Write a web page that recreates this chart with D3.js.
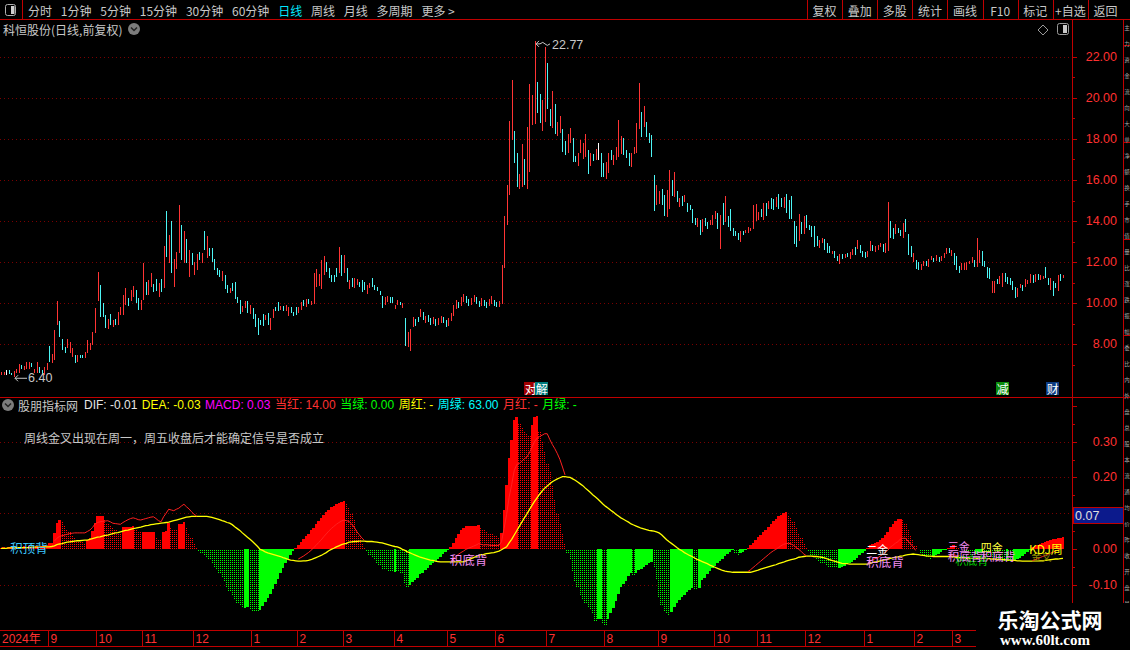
<!DOCTYPE html>
<html><head><meta charset="utf-8">
<script src="https://cdn.jsdelivr.net/npm/d3@7/dist/d3.min.js"></script>
<style>
html,body{margin:0;padding:0;background:#000;overflow:hidden}
svg{display:block}
text{font-family:"Noto Sans CJK SC","Liberation Sans",sans-serif}
.num{font-family:"Liberation Sans","DejaVu Sans",sans-serif}
</style></head><body>
<svg id="c" width="1130" height="650"></svg>
<script>
// ---------------- DATA ----------------
const stockTitle = "科恒股份(日线,前复权)";
const menuItems = ["分时","1分钟","5分钟","15分钟","30分钟","60分钟","日线","周线","月线","多周期","更多 >"];
const activeMenu = "日线";
const buttons = ["复权","叠加","多股","统计","画线","F10","标记","+自选","返回"];

const high = [
6.68,6.68,6.76,6.76,6.63,6.72,6.79,7.05,6.98,6.95,
7.15,7.15,7.11,6.79,7.15,6.92,6.76,6.89,7.08,7.92,
7.53,8.70,10.11,9.14,8.26,7.89,8.28,8.12,7.81,7.49,
7.50,7.49,7.49,7.65,8.22,8.05,8.62,9.79,11.52,10.89,
10.00,9.42,9.22,9.48,9.19,9.25,9.58,9.81,10.39,10.75,
10.24,10.65,10.84,10.65,10.24,10.16,11.98,11.05,11.14,11.46,
10.94,11.17,10.97,11.20,12.79,14.51,13.33,14.01,12.14,12.51,
14.78,13.81,13.54,13.11,12.60,12.43,12.03,12.40,12.50,12.43,
13.52,13.28,12.68,12.68,12.14,11.70,11.62,11.56,11.38,10.89,
10.76,10.97,11.02,10.32,10.16,9.87,10.10,10.11,9.92,9.77,
9.48,9.27,9.19,9.48,9.43,9.51,9.27,9.71,9.84,10.06,
9.87,9.87,9.92,9.84,9.81,9.59,9.81,9.81,10.06,10.16,
10.23,10.19,10.10,11.46,11.69,11.43,12.11,12.30,12.03,11.70,
11.38,11.38,11.74,12.76,12.35,12.35,11.70,11.14,11.22,11.22,
11.17,11.05,11.14,11.05,10.89,11.01,11.25,10.89,10.78,10.62,
10.36,10.29,10.36,10.29,10.32,9.92,10.16,10.08,10.00,9.30,
8.62,8.73,9.32,9.22,9.35,9.74,
9.60,9.40,9.45,9.30,9.35,9.25,9.30,9.40,9.35,9.20,
9.30,9.55,9.90,10.15,10.05,10.30,10.45,10.35,10.20,10.25,
10.40,10.30,10.10,10.25,10.15,10.05,10.20,10.35,10.15,10.05,
10.10,11.88,14.26,15.75,
18.87,20.87,18.38,17.30,16.29,17.73,17.02,18.60,20.67,20.13,
22.77,20.78,20.18,19.89,22.49,21.68,19.47,20.33,19.70,18.82,
19.11,18.48,17.89,18.24,18.54,18.03,17.17,17.33,17.95,17.82,
18.24,17.46,17.30,17.26,17.51,17.78,17.33,16.81,16.89,17.33,
17.46,17.22,17.62,18.92,18.14,18.06,17.46,17.33,17.30,17.62,
18.76,20.73,19.33,19.60,18.82,18.30,18.19,
16.24,15.76,15.46,15.55,15.27,15.51,16.49,16.00,16.37,15.46,
15.11,15.22,15.27,14.90,14.78,14.57,14.13,14.13,14.05,14.09,
14.13,13.97,14.05,14.30,14.49,14.41,14.30,14.90,15.22,14.25,
14.59,13.68,13.52,13.40,13.53,13.53,13.57,13.73,13.65,14.78,
14.82,14.46,14.59,14.90,14.86,14.99,15.14,15.09,15.15,15.32,
15.11,15.19,15.32,15.03,15.22,14.00,13.78,14.35,13.97,14.25,
14.30,13.81,13.76,13.76,13.27,13.08,13.19,13.11,12.95,12.79,
12.55,12.56,12.32,12.38,12.40,12.38,12.46,12.51,12.63,12.72,
13.08,12.84,12.56,12.51,12.55,13.05,12.84,12.79,12.84,12.92,
12.88,12.92,14.93,14.00,13.65,13.86,13.68,13.57,13.89,14.10,
13.37,12.79,12.43,12.11,11.99,11.91,12.06,12.06,12.16,12.30,
12.22,12.35,12.27,12.32,12.43,12.71,12.67,12.59,12.43,12.30,
11.83,11.98,11.95,12.03,12.07,12.27,12.11,13.19,12.59,12.55,
12.06,11.78,11.70,11.08,11.08,11.18,11.33,11.46,11.46,11.30,
11.25,11.08,10.81,10.73,10.94,10.89,11.17,11.13,11.41,11.38,
11.41,11.43,11.38,11.33,11.75,11.22,11.22,11.08,11.00,11.38,
11.41,11.38];

const low = [
6.51,6.51,6.51,6.55,6.50,6.40,6.59,6.63,6.79,6.76,
6.82,6.79,6.89,6.63,6.63,6.59,6.51,6.51,6.76,7.16,
7.08,7.24,8.95,8.38,7.73,7.57,7.81,7.57,7.40,7.11,
7.16,7.32,7.32,7.32,7.57,7.73,7.97,8.54,10.11,9.35,
9.35,8.78,8.75,8.95,8.83,8.95,8.95,9.43,9.43,9.92,
9.87,10.13,10.32,10.00,9.68,9.68,10.16,10.41,10.41,10.81,
10.57,10.58,10.32,10.57,10.73,12.27,11.95,11.49,10.81,11.69,
12.43,12.11,11.95,11.95,11.30,11.87,11.38,11.62,12.11,11.95,
12.60,12.19,12.30,12.03,11.62,11.38,11.27,11.10,10.68,10.52,
10.52,10.60,10.19,10.00,9.48,9.59,9.76,9.51,9.48,9.22,
8.83,8.46,8.95,8.90,9.19,8.95,8.70,9.29,9.63,9.64,
9.68,9.63,9.64,9.38,9.51,9.40,9.43,9.55,9.68,9.89,
9.84,9.95,9.94,9.95,10.81,10.86,10.68,11.38,11.54,11.22,
11.05,11.05,11.30,11.46,11.33,11.49,11.05,10.71,10.81,10.73,
10.89,10.81,10.57,10.65,10.45,10.73,10.81,10.65,10.62,10.39,
9.76,9.92,10.08,10.00,10.00,9.71,9.92,9.92,9.76,7.94,
7.89,7.70,8.86,8.90,9.11,9.35,
9.20,9.05,9.10,8.95,9.00,8.90,8.95,9.05,9.05,8.85,
8.90,9.15,9.40,9.70,9.75,9.85,10.05,10.00,9.85,9.90,
10.05,9.95,9.80,9.85,9.85,9.75,9.85,9.95,9.85,9.80,
9.80,9.95,11.70,13.80,
15.27,17.95,16.84,15.67,15.55,15.67,15.75,15.55,16.40,18.67,
18.72,19.28,18.75,18.40,18.84,19.44,18.63,18.55,18.24,18.14,
18.27,17.38,17.22,17.33,17.82,16.86,16.89,16.70,17.30,17.01,
17.10,16.29,16.68,16.94,16.97,16.97,16.16,16.16,16.03,16.32,
16.97,16.73,16.97,17.10,17.27,17.22,17.09,16.68,16.65,17.27,
17.30,18.47,18.08,18.60,18.08,17.78,17.14,
14.51,14.78,14.82,14.78,14.25,14.22,14.59,15.22,15.19,14.95,
14.70,14.75,14.91,14.46,14.54,13.89,13.81,13.73,13.32,13.49,
13.76,13.62,13.81,13.81,14.09,13.62,12.64,13.81,13.97,13.73,
13.52,13.27,13.27,13.08,13.00,13.32,13.40,13.40,13.53,13.60,
14.02,14.05,14.22,14.05,14.25,14.57,14.57,14.54,14.70,14.59,
14.70,14.65,14.38,14.10,14.10,12.88,12.72,13.05,13.37,13.37,
13.65,13.57,13.24,12.76,12.79,12.68,12.95,12.59,12.43,12.43,
12.38,12.19,12.07,11.91,12.16,12.19,12.27,12.16,12.35,12.35,
12.63,12.46,12.27,12.22,12.27,12.55,12.56,12.51,12.59,12.72,
12.51,12.43,12.56,13.16,13.13,13.37,13.44,13.27,13.19,13.49,
12.35,12.24,11.99,11.65,11.62,11.62,11.82,11.82,11.78,12.11,
12.03,12.06,12.03,12.06,12.22,12.38,12.43,12.32,11.86,11.62,
11.46,11.62,11.62,11.62,11.91,11.95,11.78,11.78,11.95,11.82,
11.78,11.22,11.18,10.49,10.49,10.92,10.94,10.78,11.04,10.92,
10.89,10.65,10.24,10.29,10.73,10.60,10.78,10.94,11.00,10.97,
11.05,11.13,11.13,11.18,11.22,10.89,10.65,10.37,10.73,10.62,
11.10,11.22];

// r = up day (red), c = down day (cyan), w = flat day (white)
const trend =
"rrwccrrrcr"+"rrcrrccrrc"+"rrrcccrrrc"+"rccrrrrrrc"+"ccrcrcrrrr"+"crrccrrcrr"+"ccrcrcrcrr"+"rcrcrcrrcr"+
"crcccccrcc"+"rccccrrcrc"+"ccccrcrrcc"+"rcrrcccrrc"+"rcrrrrrrcc"+"cccrcrcrcr"+"rcccrrcccc"+"crrccrrcrc"+"rrrccr"+
"crccrcrrcc"+"rrrrcrrccr"+"rccrccrrcc"+"rrrr"+
"rrccrrcrrr"+"rccrrccrcr"+"rccrrccrrr"+"rcrcrwccrr"+"crrrrcccrr"+"rrcrccc"+
"crrccrrcrc"+"rcrccccrcr"+"ccrrrcrcrc"+"ccccrcrrrr"+"rrcrcrccrc"+"crcccccrcr"+"cccccrrccc"+"rccrcrcrrc"+
"rcccrrcrrr"+"crrccrccrc"+"ccrccrrcrr"+"crcrrrcrcc"+"crrrrrcrrc"+"cccrrcrrcc"+"cccrrcrrrc"+"rcrrccrccr"+"cr";

// MACD histogram
const hist = [
0.004,0.005,0.004,0.005,0.006,0.005,0.006,0.006,0.006,0.007,
0.006,0.007,0.006,0.006,0.007,0.006,0.007,0.008,0.010,0.017,
0.018,0.045,0.073,0.081,0.076,0.064,0.056,0.047,0.039,0.034,
0.029,0.024,0.020,0.016,0.025,0.032,0.050,0.073,0.092,0.092,
0.093,0.081,0.073,0.066,0.059,0.053,0.045,0.043,0.061,0.061,
0.062,0.062,0.063,0.055,0.050,0.047,0.047,0.047,0.047,0.047,
0.047,0.034,0.028,0.025,0.048,0.049,0.073,0.061,0.057,0.056,
0.069,0.070,0.076,0.059,0.045,0.032,0.018,0.006,-0.006,-0.011,
-0.016,-0.022,-0.030,-0.038,-0.050,-0.060,-0.070,-0.082,-0.093,-0.105,
-0.118,-0.132,-0.142,-0.150,-0.158,-0.166,-0.164,-0.163,-0.168,-0.172,
-0.174,-0.176,-0.170,-0.158,-0.148,-0.138,-0.125,-0.112,-0.098,-0.083,
-0.067,-0.052,-0.040,-0.028,-0.016,-0.006,0.004,0.012,0.020,0.027,
0.035,0.043,0.052,0.060,0.069,0.078,0.086,0.095,0.104,0.110,
0.116,0.121,0.126,0.129,0.131,0.133,0.125,0.115,0.100,0.080,
0.055,0.035,0.018,0.004,-0.008,-0.016,-0.024,-0.032,-0.040,-0.048,
-0.055,-0.058,-0.060,-0.062,-0.063,-0.063,-0.064,-0.066,-0.070,-0.095,
-0.106,-0.100,-0.092,-0.086,-0.080,-0.070,-0.066,-0.058,-0.052,-0.046,
-0.040,-0.034,-0.028,-0.022,-0.015,-0.008,-0.002,0.006,0.016,0.030,
0.042,0.052,0.060,0.063,0.064,0.064,0.065,0.065,0.066,0.058,
0.053,0.049,0.045,0.042,0.039,0.036,0.033,0.045,0.110,0.180,
0.255,0.305,0.360,0.370,0.352,0.340,0.330,0.322,0.318,0.345,
0.368,0.372,0.330,0.300,0.270,0.240,0.215,0.180,0.140,0.100,
0.070,0.045,0.018,-0.012,-0.031,-0.065,-0.090,-0.108,-0.128,-0.142,
-0.152,-0.162,-0.170,-0.180,-0.200,-0.196,-0.195,-0.208,-0.212,-0.195,
-0.180,-0.165,-0.145,-0.125,-0.106,-0.098,-0.088,-0.075,-0.067,-0.072,
-0.066,-0.060,-0.055,-0.050,-0.045,-0.040,-0.036,-0.050,-0.087,-0.134,
-0.160,-0.172,-0.178,-0.186,-0.175,-0.162,-0.150,-0.142,-0.135,-0.128,
-0.120,-0.115,-0.108,-0.112,-0.114,-0.110,-0.087,-0.080,-0.071,-0.062,
-0.054,-0.047,-0.040,-0.033,-0.027,-0.020,-0.014,-0.009,-0.004,-0.012,
-0.016,-0.012,-0.008,-0.004,0.004,0.010,0.018,0.025,0.033,0.040,
0.047,0.054,0.062,0.070,0.078,0.085,0.092,0.096,0.100,0.103,
0.095,0.088,0.075,0.060,0.045,0.030,0.014,0.002,-0.008,-0.016,
-0.022,-0.028,-0.033,-0.038,-0.042,-0.046,-0.049,-0.051,-0.052,-0.053,
-0.052,-0.050,-0.047,-0.043,-0.040,-0.037,-0.030,-0.025,-0.018,-0.011,
-0.005,0.003,0.012,0.015,0.018,0.020,0.026,0.032,0.040,0.048,
0.062,0.070,0.078,0.083,0.084,0.080,0.072,0.055,0.040,0.025,
0.011,-0.004,-0.010,-0.016,-0.021,-0.025,-0.027,-0.022,-0.018,-0.013,
-0.008,-0.004,-0.001,0.004,0.008,0.011,0.010,0.006,-0.003,-0.008,
-0.012,-0.015,-0.017,-0.018,-0.015,-0.012,-0.010,-0.013,-0.016,-0.019,
-0.022,-0.026,-0.029,-0.032,-0.034,-0.036,-0.033,-0.034,-0.035,-0.030,
-0.029,-0.026,-0.020,-0.014,-0.008,-0.002,0.005,0.008,0.011,0.014,
0.017,0.020,0.022,0.025,0.027,0.029,0.031,0.032,0.034];

// DEA (yellow line)
const dea = [
0.002,0.002,0.002,0.003,0.003,0.003,0.003,0.004,0.004,0.004,
0.004,0.004,0.005,0.005,0.005,0.005,0.005,0.006,0.006,0.006,
0.007,0.009,0.012,0.014,0.015,0.017,0.019,0.020,0.021,0.022,
0.023,0.023,0.024,0.025,0.025,0.027,0.029,0.031,0.033,0.034,
0.036,0.038,0.039,0.041,0.043,0.045,0.046,0.048,0.050,0.052,
0.053,0.055,0.057,0.058,0.060,0.061,0.063,0.065,0.066,0.068,
0.069,0.070,0.071,0.072,0.073,0.074,0.075,0.077,0.079,0.081,
0.083,0.085,0.087,0.089,0.090,0.091,0.091,0.091,0.091,0.091,
0.091,0.091,0.090,0.088,0.086,0.084,0.082,0.079,0.077,0.074,
0.072,0.068,0.062,0.057,0.052,0.045,0.039,0.033,0.027,0.021,
0.014,0.007,-0.001,-0.004,-0.008,-0.011,-0.013,-0.015,-0.017,-0.019,
-0.021,-0.024,-0.026,-0.029,-0.031,-0.032,-0.033,-0.034,-0.034,-0.033,
-0.033,-0.032,-0.030,-0.027,-0.024,-0.021,-0.018,-0.014,-0.010,-0.005,
-0.001,0.002,0.006,0.009,0.012,0.014,0.016,0.019,0.020,0.021,
0.021,0.022,0.022,0.022,0.021,0.021,0.021,0.020,0.019,0.018,
0.017,0.015,0.013,0.011,0.009,0.007,0.006,0.003,-0.001,-0.004,
-0.008,-0.011,-0.014,-0.017,-0.020,-0.023,-0.025,-0.027,-0.029,-0.031,
-0.032,-0.034,-0.035,-0.036,-0.036,-0.036,-0.036,-0.036,-0.036,-0.036,
-0.036,-0.036,-0.036,-0.033,-0.030,-0.027,-0.024,-0.021,-0.018,-0.016,
-0.015,-0.013,-0.012,-0.011,-0.010,-0.008,-0.006,-0.002,0.002,0.006,
0.017,0.027,0.039,0.051,0.063,0.075,0.087,0.098,0.110,0.122,
0.133,0.143,0.153,0.162,0.170,0.176,0.182,0.188,0.192,0.196,
0.199,0.202,0.202,0.201,0.200,0.196,0.192,0.187,0.182,0.177,
0.170,0.164,0.158,0.151,0.145,0.139,0.132,0.125,0.119,0.114,
0.108,0.103,0.097,0.092,0.087,0.083,0.079,0.075,0.070,0.067,
0.064,0.061,0.058,0.056,0.054,0.052,0.051,0.050,0.048,0.045,
0.040,0.033,0.026,0.020,0.015,0.010,0.004,-0.001,-0.005,-0.010,
-0.014,-0.018,-0.021,-0.025,-0.029,-0.032,-0.035,-0.038,-0.041,-0.045,
-0.048,-0.051,-0.054,-0.057,-0.060,-0.062,-0.063,-0.064,-0.065,-0.065,
-0.065,-0.065,-0.065,-0.065,-0.065,-0.065,-0.063,-0.061,-0.059,-0.056,
-0.054,-0.052,-0.050,-0.048,-0.046,-0.044,-0.041,-0.039,-0.037,-0.034,
-0.032,-0.030,-0.028,-0.026,-0.023,-0.022,-0.021,-0.020,-0.020,-0.020,
-0.021,-0.021,-0.022,-0.023,-0.025,-0.027,-0.030,-0.032,-0.034,-0.036,
-0.038,-0.040,-0.041,-0.041,-0.042,-0.042,-0.042,-0.042,-0.042,-0.042,
-0.042,-0.042,-0.040,-0.038,-0.036,-0.035,-0.033,-0.031,-0.030,-0.028,
-0.026,-0.025,-0.023,-0.022,-0.020,-0.019,-0.017,-0.016,-0.015,-0.014,
-0.015,-0.016,-0.017,-0.018,-0.019,-0.020,-0.020,-0.021,-0.021,-0.021,
-0.021,-0.021,-0.021,-0.021,-0.021,-0.022,-0.023,-0.024,-0.024,-0.025,
-0.026,-0.026,-0.026,-0.026,-0.026,-0.026,-0.026,-0.026,-0.027,-0.027,
-0.028,-0.028,-0.029,-0.029,-0.029,-0.030,-0.031,-0.031,-0.032,-0.032,
-0.033,-0.033,-0.034,-0.034,-0.034,-0.034,-0.034,-0.034,-0.034,-0.033,
-0.033,-0.032,-0.031,-0.030,-0.029,-0.028,-0.028,-0.027,-0.026];

// DIF (red line), only shown while above DEA: [start index, values]
const difRuns = [
 [21,[0.022,0.030,0.035,0.037,0.039,0.041,0.043,0.044,0.045,0.045,
      0.045,0.045,0.045,0.049,0.053,0.060,0.070,0.074,0.076,0.077,
      0.078,0.079,0.076,0.072,0.071,0.070,0.069,0.074,0.078,0.082,
      0.085,0.087,0.085,0.082,0.081,0.083,0.085,0.087,0.089,0.090,
      0.085,0.079,0.076,0.090,0.100,0.111,0.109,0.107,0.111,0.114,
      0.120,0.125,0.118,0.112,0.104,0.097,0.092]],
 [117,[-0.028,-0.024,-0.020,-0.015,-0.010,-0.004,0.003,0.010,0.018,0.025,
       0.034,0.042,0.050,0.057,0.063,0.069,0.074,0.078,0.081,0.079,
       0.077,0.070,0.061,0.049,0.040,0.031,0.024]],
 [177,[-0.033,-0.028,-0.021,-0.015,-0.010,-0.006,-0.001,0.002,0.005,0.008,
       0.011,0.015,0.013,0.011,0.012,0.011,0.010,0.010,0.010,0.010,
       0.020,0.057,0.096,0.145,0.180,0.219,0.236,0.239,0.245,0.252,
       0.257,0.269,0.285,0.300,0.310,0.314,0.318,0.322,0.322,0.306,
       0.292,0.280,0.266,0.250,0.229,0.207]],
 [294,[-0.063,-0.058,-0.052,-0.046,-0.040,-0.034,-0.028,-0.022,-0.016,-0.010,
       -0.005,-0.001,0.004,0.009,0.013,0.015,0.016,0.014,0.010,0.004,
       -0.001,-0.007,-0.014,-0.019]],
 [341,[-0.040,-0.034,-0.030,-0.027,-0.025,-0.020,-0.015,-0.010,-0.004,0.005,
       0.010,0.016,0.020,0.028,0.030,0.030,0.022,0.014,0.006,-0.004]],
 [373,[-0.019,-0.017,-0.016,-0.018,-0.020]],
 [406,[-0.032,-0.030,-0.027,-0.024,-0.021,-0.018,-0.015,-0.012,-0.009,-0.006,
       -0.003,0.000,0.003]]
];

const priceTicks = [8,10,12,14,16,18,20,22];
const indTicks = [0.30,0.20,0.00,-0.10];
const indGrid = [0.30,0.20,0.10,-0.10];
const currentMark = "0.07";

const yearLabel = "2024年";
const monthIdx = [19,38,56,76,99,117,135,155,176,195,215,238,259,281,298,317,340,360,375];
const monthLabel = ["9","10","11","12","1","2","3","4","5","6","7","8","9","10","11","12","1","2","3"];

const indName = "股朋指标网";
const legendItems = [
 ["DIF: -0.01","#e6e6e6"],["DEA: -0.03","#ffff00"],["MACD: 0.03","#ff00ff"],
 ["当红: 14.00","#ff3232"],["当绿: 0.00","#00ff00"],["周红: -","#ffff00"],
 ["周绿: 63.00","#00ffff"],["月红: -","#ff3232"],["月绿: -","#00ff00"]];
const noteText = "周线金叉出现在周一，周五收盘后才能确定信号是否成立";

// signal texts in the indicator: [index, level, text, colour, size]
const signals = [
 [4, 0.005, "积顶背", "#3cc8ff", 12.5],
 [177, -0.028, "积底背", "#f28cf2", 12.5],
 [341, 0.001, "二金", "#ffffff", 11],
 [341, -0.034, "积底背", "#f28cf2", 12.5],
 [376, -0.031, "积底背", "#00d000", 11],
 [373, 0.008, "三金", "#f28cf2", 11],
 [373, -0.020, "积底背", "#f28cf2", 11.5],
 [386, 0.006, "四金", "#ffff40", 11],
 [386, -0.020, "积底背", "#f28cf2", 11.5],
 [406, -0.022, "金叉", "#8c8c00", 10],
 [405, 0.002, "KDJ周", "#ffff00", 12]
];
// event markers on the price chart: [index, text, background]
const events = [[208.5,"对","#a00000"],[212.8,"解","#007a7a"],[394.3,"减","#0a8a0a"],[414,"财","#0d3b80"]];

const sideChars = ["主","力","资","金","流","向","大","单","净","额","换","手","市","值","量","比","涨","跌","振","幅","委","比","内","外","盘","总","股","本","流","通","均","价","昨","收","开","盘","最","高"];
const watermark = ["乐淘公式网","www.60lt.com"];

// ---------------- DRAW ----------------
const W = 1130, H = 650;
const svg = d3.select("#c");
const RL = "#c00000";
const N = high.length;
const xs = d3.scaleLinear().domain([0, N - 1]).range([1, 1063]);
const step = xs(1) - xs(0);
const yP = d3.scaleLinear().domain([10, 22]).range([303.3, 56.7]);
const yI = d3.scaleLinear().domain([0, 0.1]).range([549, 513.2]);

svg.append("rect").attr("width", W).attr("height", H).attr("fill", "#000");
const defs = svg.append("defs");
[["dotR", "#ff0000"], ["dotG", "#00ff00"]].forEach(([id, c]) => {
  const p = defs.append("pattern").attr("id", id).attr("width", 2).attr("height", 2)
    .attr("patternUnits", "userSpaceOnUse");
  p.append("rect").attr("width", 1).attr("height", 1).attr("fill", c);
});

function hline(g, x1, x2, y, col, dash) {
  const l = g.append("line").attr("x1", x1).attr("x2", x2).attr("y1", y).attr("y2", y)
    .attr("stroke", col).attr("stroke-width", 1);
  if (dash) l.attr("stroke-dasharray", dash);
  return l;
}
function vline(g, x, y1, y2, col) {
  return g.append("line").attr("x1", x).attr("x2", x).attr("y1", y1).attr("y2", y2)
    .attr("stroke", col).attr("stroke-width", 1);
}
function iconCircle(g, cx, cy) {
  g.append("circle").attr("cx", cx).attr("cy", cy).attr("r", 6).attr("fill", "#7c7c7c");
  g.append("path").attr("d", `M${cx - 3},${cy - 1.5} L${cx},${cy + 1.5} L${cx + 3},${cy - 1.5}`)
    .attr("fill", "none").attr("stroke", "#222").attr("stroke-width", 1.5);
}

const frame = svg.append("g").attr("shape-rendering", "crispEdges");

// ---- toolbar
const tb = svg.append("g");
tb.append("rect").attr("x", 5.5).attr("y", 4.5).attr("width", 10).attr("height", 11).attr("rx", 2)
  .attr("fill", "none").attr("stroke", "#b0b0b0");
tb.append("rect").attr("x", 11).attr("y", 6).attr("width", 3.5).attr("height", 8).attr("fill", "#d0d0d0");
vline(frame, 22.5, 0, 19.5, RL);
let mx = 28;
menuItems.forEach(m => {
  const t = tb.append("text").attr("x", mx).attr("y", 10).attr("dominant-baseline", "central")
    .attr("font-size", 12).attr("fill", m === activeMenu ? "#00e8ff" : "#c8c8c8").text(m);
  mx += t.node().getComputedTextLength() + 8.8;
});
const bx = d3.scaleBand().domain(buttons).range([807, 1123]);
buttons.forEach(b => {
  vline(frame, Math.round(bx(b)) + 0.5, 0, 19.5, RL);
  tb.append("text").attr("x", bx(b) + bx.bandwidth() / 2).attr("y", 10).attr("text-anchor", "middle")
    .attr("dominant-baseline", "central").attr("font-size", 12).attr("fill", "#c8c8c8").text(b);
});
hline(frame, 0, W, 19.5, RL);

// ---- price panel
const pp = svg.append("g");
priceTicks.forEach(t => hline(pp, 0, 1072, Math.round(yP(t)) + 0.5, "#7a0000", "1,3"));
vline(frame, 1072.5, 19.5, 630, RL);
vline(frame, 1123.5, 19.5, 650, RL);
d3.range(7, 23).forEach(v => {
  const y = Math.round(yP(v)) + 0.5;
  if (y > 20 && y < 396) hline(frame, 1072.5, v % 2 === 0 ? 1077 : 1075, y, RL);
});
priceTicks.forEach(t => pp.append("text").attr("class", "num").attr("x", 1117).attr("y", yP(t))
  .attr("text-anchor", "end").attr("dominant-baseline", "central").attr("font-size", 12.5)
  .attr("fill", "#ff3030").text(t.toFixed(2)));

// title
pp.append("text").attr("x", 3).attr("y", 29).attr("dominant-baseline", "central")
  .attr("font-size", 12).attr("fill", "#c8c8c8").text(stockTitle);
iconCircle(pp, 134, 29);
pp.append("path").attr("d", "M1043,25 L1048,30 L1043,35 L1038,30 Z").attr("fill", "none")
  .attr("stroke", "#9a9a9a");
pp.append("rect").attr("x", 1057.5).attr("y", 23.5).attr("width", 11).attr("height", 11).attr("rx", 2)
  .attr("fill", "none").attr("stroke", "#9a9a9a");
pp.append("rect").attr("x", 1063).attr("y", 25).attr("width", 4).attr("height", 8).attr("fill", "#c8c8c8");

// candles
const candleColor = { r: "#ff3434", c: "#4df5f5", w: "#ffffff" };
pp.append("g").attr("shape-rendering", "crispEdges").selectAll("line").data(high).join("line")
  .attr("x1", (d, i) => Math.round(xs(i)) + 0.5).attr("x2", (d, i) => Math.round(xs(i)) + 0.5)
  .attr("y1", d => yP(d)).attr("y2", (d, i) => yP(low[i]))
  .attr("stroke", (d, i) => candleColor[trend[i]]).attr("stroke-width", 1.2);

// max / min labels
const iMax = d3.maxIndex(high), iMin = d3.minIndex(low);
{
  const x = Math.round(xs(iMax)) + 1, y = yP(high[iMax]) + 3;
  pp.append("path").attr("d", `M${x + 3},${y - 3} L${x},${y} L${x + 3},${y + 3} M${x},${y} L${x + 4},${y} Q${x + 7},${y - 3} ${x + 9},${y} T${x + 14},${y}`)
    .attr("fill", "none").attr("stroke", "#c8c8c8");
  pp.append("text").attr("class", "num").attr("x", x + 16).attr("y", y + 1).attr("dominant-baseline", "central")
    .attr("font-size", 12.5).attr("fill", "#c8c8c8").text(high[iMax].toFixed(2));
}
{
  const x = Math.round(xs(iMin)) + 1, y = yP(low[iMin]) + 1;
  pp.append("path").attr("d", `M${x + 3},${y - 3} L${x},${y} L${x + 3},${y + 3} M${x},${y} L${x + 12},${y}`)
    .attr("fill", "none").attr("stroke", "#c8c8c8");
  pp.append("text").attr("class", "num").attr("x", x + 13).attr("y", y).attr("dominant-baseline", "central")
    .attr("font-size", 12.5).attr("fill", "#c8c8c8").text(low[iMin].toFixed(2));
}
// event markers
events.forEach(([i, t, bg]) => {
  const cx = xs(i);
  pp.append("rect").attr("x", Math.round(cx - 6.5)).attr("y", 382).attr("width", 13).attr("height", 13).attr("fill", bg);
  pp.append("text").attr("x", cx).attr("y", 388.5).attr("text-anchor", "middle").attr("dominant-baseline", "central")
    .attr("font-size", 12).attr("fill", "#ffffff").text(t);
});
hline(frame, 0, W, 397.5, RL);

// ---- indicator panel
const ip = svg.append("g");
indGrid.forEach(v => hline(ip, 0, 1072, Math.round(yI(v)) + 0.5, "#7a0000", "1,3"));
iconCircle(ip, 8, 405);
ip.append("text").attr("x", 18).attr("y", 405).attr("dominant-baseline", "central").attr("font-size", 12)
  .attr("fill", "#c8c8c8").text(indName);
let lx = 84;
legendItems.forEach(([t, c]) => {
  const e = ip.append("text").attr("class", "num").attr("x", lx).attr("y", 405).attr("dominant-baseline", "central")
    .attr("font-size", 12).attr("fill", c).text(t);
  e.style("font-family", '"Liberation Sans","Noto Sans CJK SC",sans-serif');
  lx += e.node().getComputedTextLength() + 4.5;
});
ip.append("text").attr("x", 24).attr("y", 437).attr("dominant-baseline", "central").attr("font-size", 12)
  .attr("fill", "#c8c8c8").text(noteText);

// histogram
ip.append("g").attr("shape-rendering", "crispEdges").selectAll("rect").data(hist).join("rect")
  .attr("x", (d, i) => Math.round(xs(i) - step / 2))
  .attr("width", (d, i) => Math.max(1, Math.round(xs(i) + step / 2) - Math.round(xs(i) - step / 2)))
  .attr("y", d => Math.round(Math.min(yI(0), yI(d))))
  .attr("height", d => Math.max(1, Math.round(Math.abs(yI(d) - yI(0)))))
  .attr("fill", (d, i) => {
    const rising = i === 0 || d >= hist[i - 1];
    if (d >= 0) return rising ? "#ff0000" : "url(#dotR)";
    return rising ? "#00ff00" : "url(#dotG)";
  });

// DEA + DIF lines
const line = d3.line().x(d => xs(d[0])).y(d => yI(d[1]));
ip.append("path").attr("d", line(dea.map((v, i) => [i, v]))).attr("fill", "none")
  .attr("stroke", "#ffff00").attr("stroke-width", 1.3);
difRuns.forEach(([s, vals]) => {
  ip.append("path").attr("d", line(vals.map((v, k) => [s + k, v]))).attr("fill", "none")
    .attr("stroke", "#ff2020").attr("stroke-width", 1);
});

// signal texts
signals.forEach(([i, v, t, c, fs]) => {
  ip.append("text").attr("x", xs(i) - 1).attr("y", yI(v)).attr("dominant-baseline", "central")
    .attr("font-size", fs).attr("fill", c).text(t);
});

// right axis of indicator
d3.range(-3, 9).forEach(k => {
  const v = k * 0.05, y = Math.round(yI(v)) + 0.5;
  if (y > 400 && y < 604) hline(frame, 1072.5, k % 2 === 0 ? 1077 : 1075, y, RL);
});
indTicks.forEach(t => ip.append("text").attr("class", "num").attr("x", 1117).attr("y", yI(t))
  .attr("text-anchor", "end").attr("dominant-baseline", "central").attr("font-size", 12.5)
  .attr("fill", "#ff3030").text(t.toFixed(2)));
ip.append("rect").attr("x", 1073).attr("y", 507).attr("width", 50).attr("height", 16)
  .attr("fill", "#0c1a8c").attr("stroke", RL).attr("shape-rendering", "crispEdges");
ip.append("text").attr("class", "num").attr("x", 1075).attr("y", 515.5).attr("dominant-baseline", "central")
  .attr("font-size", 12.5).attr("fill", "#e0e0e0").text(currentMark);

// ---- time axis
const ta = svg.append("g");
hline(frame, 0, 976, 630.5, RL);
hline(frame, 0, 976, 646.5, RL);
ta.append("text").attr("class", "num").attr("x", 2).attr("y", 639).attr("dominant-baseline", "central")
  .attr("font-size", 12).attr("fill", "#ff3030").style("font-family", '"Liberation Sans","Noto Sans CJK SC"')
  .text(yearLabel);
monthIdx.forEach((i, k) => {
  const x = Math.round(xs(i) - step / 2) + 0.5;
  vline(frame, x, 630.5, 646.5, RL);
  ta.append("text").attr("class", "num").attr("x", x + 2).attr("y", 639).attr("dominant-baseline", "central")
    .attr("font-size", 12).attr("fill", "#ff3030").text(monthLabel[k]);
});

// ---- side strip (narrow, partly hidden column)
const ss = svg.append("g");
sideChars.forEach((c, k) => {
  ss.append("text").attr("x", 1124.3).attr("y", 28 + k * 16).attr("dominant-baseline", "central")
    .attr("font-size", 5.5).attr("fill", "#a8a8a8").text(c);
});
[45.5, 142.5, 239.5, 335.5].forEach(y => hline(frame, 1123.5, 1130, y, RL));

// ---- watermark
const wm = svg.append("g");
wm.append("rect").attr("x", 985).attr("y", 603).attr("width", 145).attr("height", 47).attr("fill", "#000");
wm.append("text").attr("x", 1050).attr("y", 619).attr("text-anchor", "middle").attr("dominant-baseline", "central")
  .attr("font-size", 21).attr("font-weight", "bold").attr("fill", "#ffffff").text(watermark[0]);
wm.append("text").attr("x", 1045).attr("y", 640).attr("text-anchor", "middle").attr("dominant-baseline", "central")
  .attr("font-size", 15).attr("font-weight", "bold").attr("fill", "#ffffff")
  .style("font-family", '"Liberation Serif","DejaVu Serif",serif').text(watermark[1]);
</script>
</body></html>
